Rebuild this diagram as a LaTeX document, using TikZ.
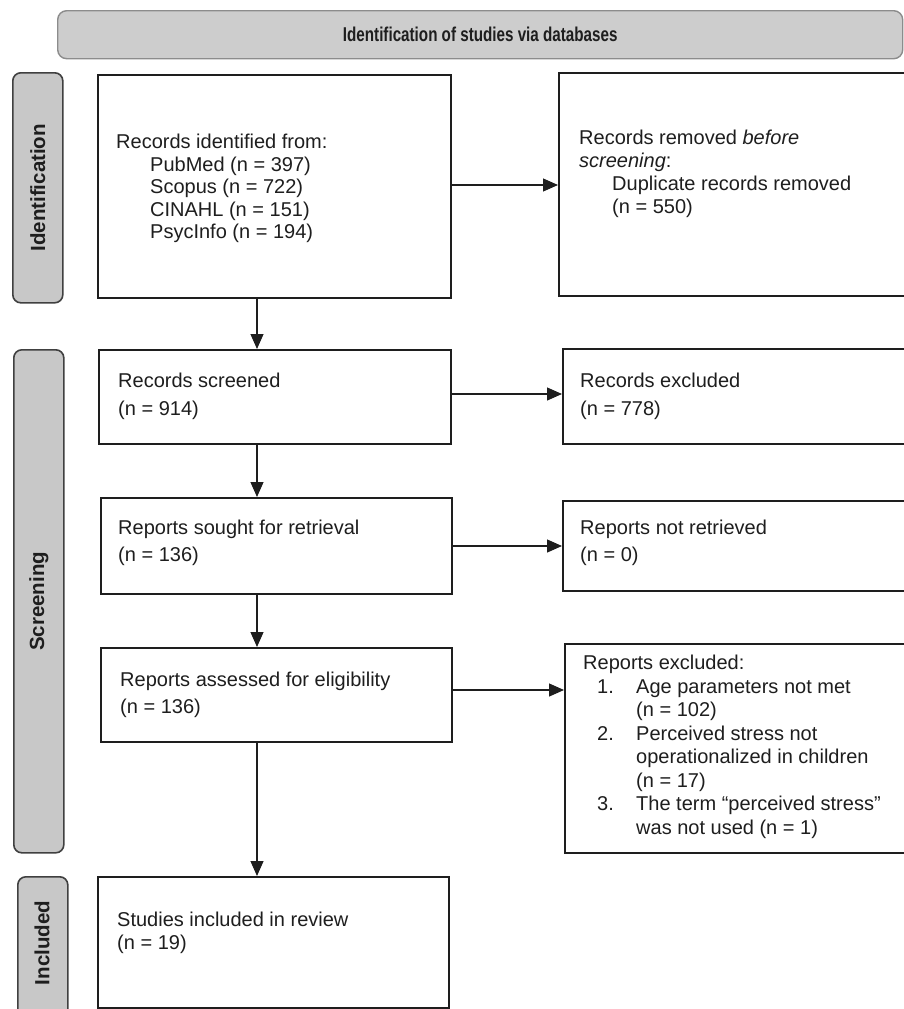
\documentclass[tikz,border=0pt]{standalone}
\usepackage{fontspec}
\setmainfont{Liberation Sans}
\usetikzlibrary{arrows.meta}
\definecolor{lblfill}{HTML}{C8C8C8}
\definecolor{hdrfill}{HTML}{CDCDCD}
\definecolor{lineclr}{HTML}{1E1E1E}
\begin{document}
\begin{tikzpicture}[x=1pt,y=-1pt,
  box/.style={draw=lineclr, line width=1.8pt, fill=white, inner sep=0pt},
  lbl/.style={draw=lineclr!85, line width=1.6pt, fill=lblfill, rounded corners=8pt, inner sep=0pt},
  hdr/.style={draw=gray!90, line width=1.4pt, fill=hdrfill, rounded corners=9pt, inner sep=0pt},
  lbltext/.style={rotate=90, font=\fontsize{20.5}{24}\selectfont\bfseries, inner sep=0pt, text=lineclr},
  txt/.style={anchor=north west, inner sep=0pt, align=left, text=lineclr},
  arr/.style={draw=lineclr, line width=1.2pt, -{Triangle[length=15pt,width=13pt]}}]
\useasboundingbox (0,0) rectangle (903,1009);
\fill[white] (0,0) rectangle (903,1009);

% header
\node[hdr, minimum width=845pt, minimum height=48pt, anchor=north west] (hdr) at (57,10) {};
\node[font=\fontsize{20}{24}\selectfont\bfseries, inner sep=0pt, text=lineclr] (hdrtext) at (hdr.center) {\scalebox{0.76}[1]{Identification of studies via databases}};

% side labels
\node[lbl, minimum width=50pt, minimum height=230pt, anchor=north west] (lblid) at (12,72) {};
\node[lbltext] (lblidtext) at (lblid.center) {Identification};
\node[lbl, minimum width=50pt, minimum height=503pt, anchor=north west] (lblscr) at (13,349) {};
\node[lbltext] (lblscrtext) at (lblscr.center) {Screening};
\node[lbl, minimum width=50pt, minimum height=150pt, anchor=north west] (lblinc) at (17,876) {};
\node[lbltext] (lblinctext) at (42,943) {Included};

% boxes
\node[box, minimum width=353pt, minimum height=223pt, anchor=north west] (ident) at (97,74) {};
\node[box, minimum width=347pt, minimum height=223pt, anchor=north west] (removed) at (558,72) {};
\node[box, minimum width=352pt, minimum height=94pt, anchor=north west] (screened) at (98,349) {};
\node[box, minimum width=343pt, minimum height=95pt, anchor=north west] (excluded) at (562,348) {};
\node[box, minimum width=351pt, minimum height=96pt, anchor=north west] (sought) at (100,497) {};
\node[box, minimum width=343pt, minimum height=90pt, anchor=north west] (notretr) at (562,500) {};
\node[box, minimum width=351pt, minimum height=94pt, anchor=north west] (assessed) at (100,647) {};
\node[box, minimum width=341pt, minimum height=209pt, anchor=north west] (exclrep) at (564,643) {};
\node[box, minimum width=351pt, minimum height=131pt, anchor=north west] (studies) at (97,876) {};

% texts
\node[txt, font=\fontsize{20}{22.5}\selectfont] (identtext) at (116,134) {Records identified from:\\
\hspace*{34pt}PubMed (n = 397)\\
\hspace*{34pt}Scopus (n = 722)\\
\hspace*{34pt}CINAHL (n = 151)\\
\hspace*{34pt}PsycInfo (n = 194)};
\node[txt, font=\fontsize{20}{23}\selectfont] (removedtext) at (579,130) {Records removed \textit{before}\\
\textit{screening}:\\
\hspace*{33pt}Duplicate records removed\\
\hspace*{33pt}(n = 550)};
\node[txt, font=\fontsize{20}{28}\selectfont] (screenedtext) at (118,373) {Records screened\\(n = 914)};
\node[txt, font=\fontsize{20}{28}\selectfont] (excludedtext) at (580,373) {Records excluded\\(n = 778)};
\node[txt, font=\fontsize{20}{27}\selectfont] (soughttext) at (118,520) {Reports sought for retrieval\\(n = 136)};
\node[txt, font=\fontsize{20}{27}\selectfont] (notretrtext) at (580,520) {Reports not retrieved\\(n = 0)};
\node[txt, font=\fontsize{20}{27}\selectfont] (assessedtext) at (120,672) {Reports assessed for eligibility\\(n = 136)};
\node[txt, font=\fontsize{20}{23.5}\selectfont] (exclreptext) at (583,655) {Reports excluded:\\
\hspace*{14pt}\makebox[39pt][l]{1.}Age parameters not met\\
\hspace*{53pt}(n = 102)\\
\hspace*{14pt}\makebox[39pt][l]{2.}Perceived stress not\\
\hspace*{53pt}operationalized in children\\
\hspace*{53pt}(n = 17)\\
\hspace*{14pt}\makebox[39pt][l]{3.}The term “perceived stress”\\
\hspace*{53pt}was not used (n = 1)};
\node[txt, font=\fontsize{20}{23}\selectfont] (studiestext) at (117,912) {Studies included in review\\(n = 19)};

% arrows
\draw[arr] (ident.east |- 0,185) -- (removed.west |- 0,185);
\draw[arr] (257,297) -- (screened.north -| 257,0);
\draw[arr] (screened.east |- 0,394) -- (excluded.west |- 0,394);
\draw[arr] (257,443) -- (sought.north -| 257,0);
\draw[arr] (sought.east |- 0,546) -- (notretr.west |- 0,546);
\draw[arr] (257,593) -- (assessed.north -| 257,0);
\draw[arr] (assessed.east |- 0,690) -- (exclrep.west |- 0,690);
\draw[arr] (257,741) -- (studies.north -| 257,0);
\end{tikzpicture}
\end{document}
